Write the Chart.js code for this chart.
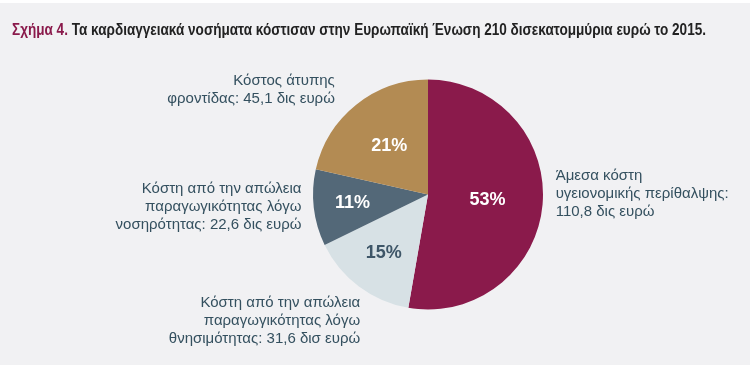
<!DOCTYPE html>
<html>
<head>
<meta charset="utf-8">
<script src="https://cdn.jsdelivr.net/npm/chart.js@4.4.1/dist/chart.umd.min.js"></script>
<style>
html,body{margin:0;padding:0;background:#f1f1f3;}
#wrap{position:relative;width:750px;height:365px;background:#f1f1f3;border-top:3px solid #ffffff;box-sizing:border-box;}
canvas{display:block;}
</style>
</head>
<body>
<div id="wrap"><canvas id="c" width="750" height="362"></canvas></div>
<script>
// Data
const titlePrefix = "Σχήμα 4.";
const titleText = " Τα καρδιαγγειακά νοσήματα κόστισαν στην Ευρωπαϊκή Ένωση 210 δισεκατομμύρια ευρώ το 2015.";
const categories = [
  ["Άμεσα κόστη", "υγειονομικής περίθαλψης:", "110,8 δις ευρώ"],
  ["Κόστη από την απώλεια", "παραγωγικότητας λόγω", "θνησιμότητας: 31,6 δισ ευρώ"],
  ["Κόστη από την απώλεια", "παραγωγικότητας λόγω", "νοσηρότητας: 22,6 δις ευρώ"],
  ["Κόστος άτυπης", "φροντίδας: 45,1 δις ευρώ"]
];
const values = [110.8, 31.6, 22.6, 45.1];
const colors = ["#8a1a4b", "#d7e1e5", "#536878", "#b38b53"];

const labelPlugin = {
  id: 'labels',
  afterDraw(chart) {
    const ctx = chart.ctx;
    const meta = chart.getDatasetMeta(0);
    const total = values.reduce((a, b) => a + b, 0);
    const pctR = [0.52, 0.64, 0.66, 0.54];
    const pctColor = ["#ffffff", "#3e5668", "#ffffff", "#ffffff"];
    const arc0 = meta.data[0];
    const cx = arc0.x, cy = arc0.y, R = arc0.outerRadius;
    ctx.save();
    meta.data.forEach((arc, i) => {
      const mid = (arc.startAngle + arc.endAngle) / 2;
      const r = R * pctR[i];
      const x = cx + Math.cos(mid) * r;
      const y = cy + Math.sin(mid) * r;
      ctx.font = "bold 18px 'Liberation Sans', Arial, sans-serif";
      ctx.fillStyle = pctColor[i];
      ctx.textAlign = "center";
      ctx.textBaseline = "middle";
      ctx.fillText(Math.round(values[i] / total * 100) + "%", x, y);
    });
    const pos = [
      {dx: 1.11, dy: -0.16, align: "left"},
      {dx: -0.59, dy: 0.94, align: "right"},
      {dx: -1.10, dy: -0.05, align: "right"},
      {dx: -0.81, dy: -0.99, align: "right"}
    ];
    ctx.font = "15px 'Liberation Sans', Arial, sans-serif";
    ctx.fillStyle = "#34505f";
    ctx.textBaseline = "middle";
    categories.forEach((lines, i) => {
      const p = pos[i];
      ctx.textAlign = p.align;
      lines.forEach((ln, j) => {
        ctx.fillText(ln, cx + p.dx * R, cy + p.dy * R + j * 18);
      });
    });
    // title, horizontally condensed to the reference width
    ctx.textAlign = "left";
    ctx.textBaseline = "middle";
    ctx.font = "bold 16px 'Liberation Sans', Arial, sans-serif";
    const w1 = ctx.measureText(titlePrefix).width;
    const w2 = ctx.measureText(titleText).width;
    const sx = 694 / (w1 + w2);
    ctx.translate(12, 28);
    ctx.scale(sx, 1);
    ctx.fillStyle = "#8a1a4b";
    ctx.fillText(titlePrefix, 0, 0);
    ctx.fillStyle = "#222222";
    ctx.fillText(titleText, w1, 0);
    ctx.restore();
  }
};

new Chart(document.getElementById('c'), {
  type: 'pie',
  data: {
    labels: categories.map(l => l.join(' ')),
    datasets: [{
      data: values,
      backgroundColor: colors,
      borderWidth: 0
    }]
  },
  options: {
    responsive: false,
    animation: false,
    layout: {padding: {left: 313, right: 207, top: 75, bottom: 54}},
    plugins: {legend: {display: false}, tooltip: {enabled: false}}
  },
  plugins: [labelPlugin]
});
</script>
</body>
</html>
